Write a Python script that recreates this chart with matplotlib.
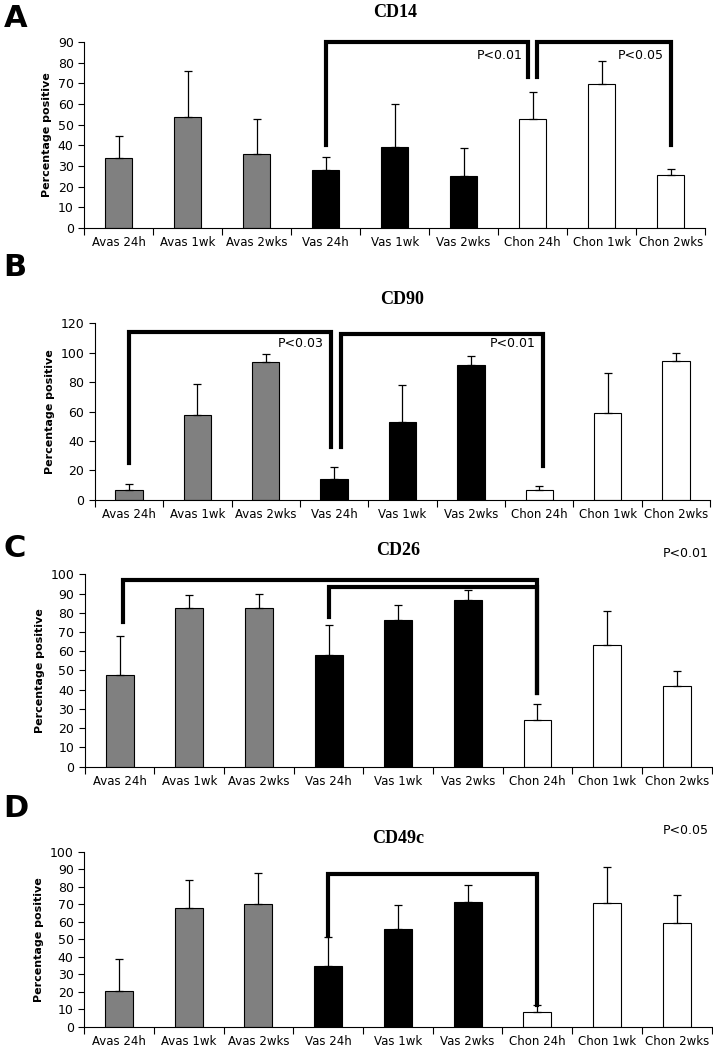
import numpy as np
import matplotlib.pyplot as plt

categories = ['Avas 24h', 'Avas 1wk', 'Avas 2wks', 'Vas 24h', 'Vas 1wk',
              'Vas 2wks', 'Chon 24h', 'Chon 1wk', 'Chon 2wks']
colors = ['#808080'] * 3 + ['black'] * 3 + ['white'] * 3

cd14_mean = [34, 53.5, 36, 28, 39, 25, 52.5, 69.5, 25.5]
cd14_top = [44.5, 76, 52.5, 34.5, 60, 38.5, 66, 81, 28.5]
cd90_mean = [7, 58, 94, 14, 53, 91.5, 6.5, 59, 94.5]
cd90_top = [11, 79, 99, 22, 78, 98, 9.5, 86, 100]
cd26_mean = [47.5, 82.5, 82.5, 58, 76, 86.5, 24, 63, 42]
cd26_top = [68, 89.5, 90, 73.5, 84, 92, 32.5, 81, 49.5]
cd49c_mean = [20.5, 68, 70, 35, 56, 71.5, 8.5, 70.5, 59]
cd49c_top = [39, 83.5, 87.5, 51, 69.5, 81, 12.5, 91, 75]

panels = [
    # letter, title, mean, top, ymax, step, axes rect, title pad
    ('A', 'CD14', cd14_mean, cd14_top, 90, 10, [0.118, 0.783, 0.871, 0.177], 18),
    ('B', 'CD90', cd90_mean, cd90_top, 120, 20, [0.133, 0.524, 0.863, 0.168], 14),
    ('C', 'CD26', cd26_mean, cd26_top, 100, 10, [0.119, 0.270, 0.879, 0.183], 14),
    ('D', 'CD49c', cd49c_mean, cd49c_top, 100, 10, [0.118, 0.022, 0.880, 0.167], 6),
]


def bracket(ax, x1, y1, x2, y2, ytop):
    ax.plot([x1, x1, x2, x2], [y1, ytop, ytop, y2], color='black', lw=3,
            solid_joinstyle='miter', clip_on=False)


fig = plt.figure(figsize=(7.13, 10.5), dpi=100)
axes = {}
for letter, title, mean, top, ymax, step, rect, pad in panels:
    ax = fig.add_axes(rect)
    x = np.arange(len(categories))
    err = np.array(top) - np.array(mean)
    ax.bar(x, mean, width=0.4, color=colors, edgecolor='black', linewidth=0.8)
    ax.errorbar(x, mean, yerr=[np.zeros(len(x)), err], fmt='none',
                ecolor='black', elinewidth=0.9, capsize=3, capthick=0.9)
    ax.set_xlim(-0.5, len(categories) - 0.5)
    ax.set_ylim(0, ymax)
    ax.set_yticks(np.arange(0, ymax + 1, step))
    ax.set_xticks(x)
    ax.set_xticklabels(categories, fontsize=8.5)
    ax.set_xticks(np.arange(-0.5, len(categories)), minor=True)
    ax.tick_params(axis='x', which='major', length=0, pad=6)
    ax.tick_params(axis='x', which='minor', length=5, width=0.8)
    ax.tick_params(axis='y', labelsize=9, length=4, width=0.8)
    ax.spines['top'].set_visible(False)
    ax.spines['right'].set_visible(False)
    ax.set_ylabel('Percentage positive', fontsize=8, fontweight='bold')
    ax.set_title(title, fontsize=13, fontweight='bold', family='Liberation Serif', pad=pad)
    axes[letter] = ax

# panel A
ax = axes['A']
bracket(ax, 3, 40, 5.93, 73, 90)
bracket(ax, 6.07, 73, 8.0, 40, 90)
ax.text(5.85, 82, 'P<0.01', fontsize=9, ha='right')
ax.text(7.9, 82, 'P<0.05', fontsize=9, ha='right')

# panel B
ax = axes['B']
bracket(ax, 0, 25, 2.95, 36, 114)
bracket(ax, 3.1, 36, 6.05, 23, 113)
ax.text(2.85, 104, 'P<0.03', fontsize=9, ha='right')
ax.text(5.95, 104, 'P<0.01', fontsize=9, ha='right')

# panel C
ax = axes['C']
bracket(ax, 0.05, 75, 6.0, 38, 97)
bracket(ax, 3.0, 78, 6.0, 38, 93.5)
ax.text(0.995, 1.09, 'P<0.01', fontsize=9, ha='right', transform=ax.transAxes)

# panel D
ax = axes['D']
bracket(ax, 3.0, 52, 6.0, 12.5, 87)
ax.text(0.995, 1.1, 'P<0.05', fontsize=9, ha='right', transform=ax.transAxes)

for letter, y in [('A', 0.982), ('B', 0.745), ('C', 0.478), ('D', 0.23)]:
    fig.text(0.005, y, letter, fontsize=22, fontweight='bold', va='center')

fig.savefig('out.png', dpi=100)
